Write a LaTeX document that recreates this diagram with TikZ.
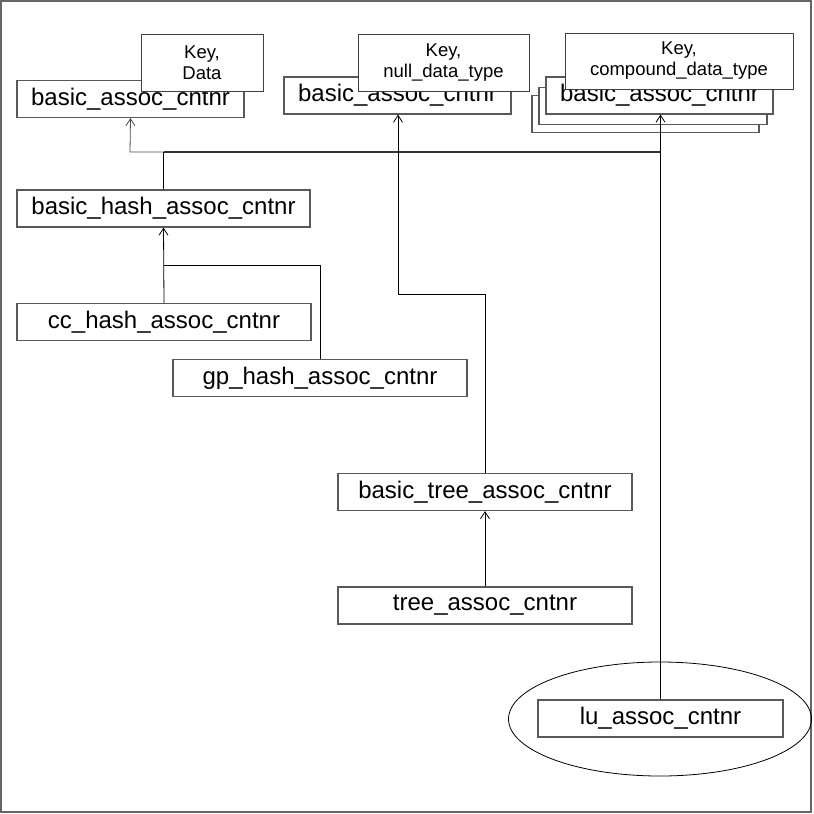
\documentclass[tikz,border=0pt]{standalone}
\usepackage{fontspec}
\setmainfont{Liberation Sans}
\usetikzlibrary{arrows.meta}
\begin{document}
\begin{tikzpicture}[x=1pt,y=-1pt,
  cls/.style={draw=black!65,line width=1.1pt,fill=white,inner sep=0pt,
    font=\fontsize{24}{28}\selectfont,minimum height=37pt},
  param/.style={draw=black!75,line width=1pt,fill=white,inner sep=0pt,
    align=center,font=\fontsize{18.5}{21}\selectfont},
  conn/.style={draw=black,line width=0.8pt},
  inherit/.style={conn,-{Straight Barb[length=7pt,width=9pt,line width=0.8pt]}},
  bus/.style={draw=black!80,line width=1.8pt}]
\useasboundingbox (0,0) rectangle (814,814);
\draw[black!60,line width=1.5pt] (1,1) rectangle (811,812);

% instantiations of the base container
\node[cls,minimum width=227pt] (ba1) at (130.5,99) {basic\_assoc\_cntnr};
\node[param,minimum width=122pt,minimum height=57pt] (kd) at (202,62.5) {Key,\\Data};

\node[cls,minimum width=227pt] (ba2) at (397.5,95.5) {basic\_assoc\_cntnr};
\node[param,minimum width=171pt,minimum height=57pt] (kn) at (443.5,62.5) {Key,\\null\_data\_type};

\node[cls,minimum width=227pt] (ba3c) at (645.5,114) {};
\node[cls,minimum width=228pt] (ba3b) at (653,106) {};
\node[cls,minimum width=227pt] (ba3) at (659.5,95.5) {basic\_assoc\_cntnr};
\node[param,minimum width=228pt,minimum height=56pt] (kc) at (679,61) {Key,\\compound\_data\_type};

% hash based containers
\node[cls,minimum width=293pt] (bh) at (163.5,208.5) {basic\_hash\_assoc\_cntnr};
\node[cls,minimum width=294pt] (cc) at (164,322) {cc\_hash\_assoc\_cntnr};
\node[cls,minimum width=294pt] (gp) at (320,378) {gp\_hash\_assoc\_cntnr};

% tree based containers
\node[cls,minimum width=294pt] (bt) at (485,492) {basic\_tree\_assoc\_cntnr};
\node[cls,minimum width=294pt] (tr) at (485,605.5) {tree\_assoc\_cntnr};

% list update container
\draw[black,line width=0.8pt] (660,719) ellipse [x radius=151.5, y radius=57];
\node[cls,minimum width=245pt] (lu) at (660.5,718.5) {lu\_assoc\_cntnr};

% bend points
\coordinate (hL) at (130,152);
\coordinate (hR) at (660,152);
\coordinate (gbend) at (320,265);
\coordinate (tbend) at (398,294);

% inheritance connectors
\draw[bus] (bh.north |- hL) -- (hR);
\draw[conn] (bh.north) -- (bh.north |- hL);
\draw[inherit,draw=black!70] (bh.north |- hL) -- (hL) -- (ba1.south);
\draw[inherit] (lu.north) -- (lu.north |- ba3.south);

\draw[inherit] (cc.north) -- (bh.south);
\draw[conn] (gp.north) |- (cc.north |- gbend);

\draw[inherit] (bt.north) |- (tbend) -- (tbend |- ba2.south);
\draw[inherit] (tr.north) -- (bt.south);
\end{tikzpicture}
\end{document}
